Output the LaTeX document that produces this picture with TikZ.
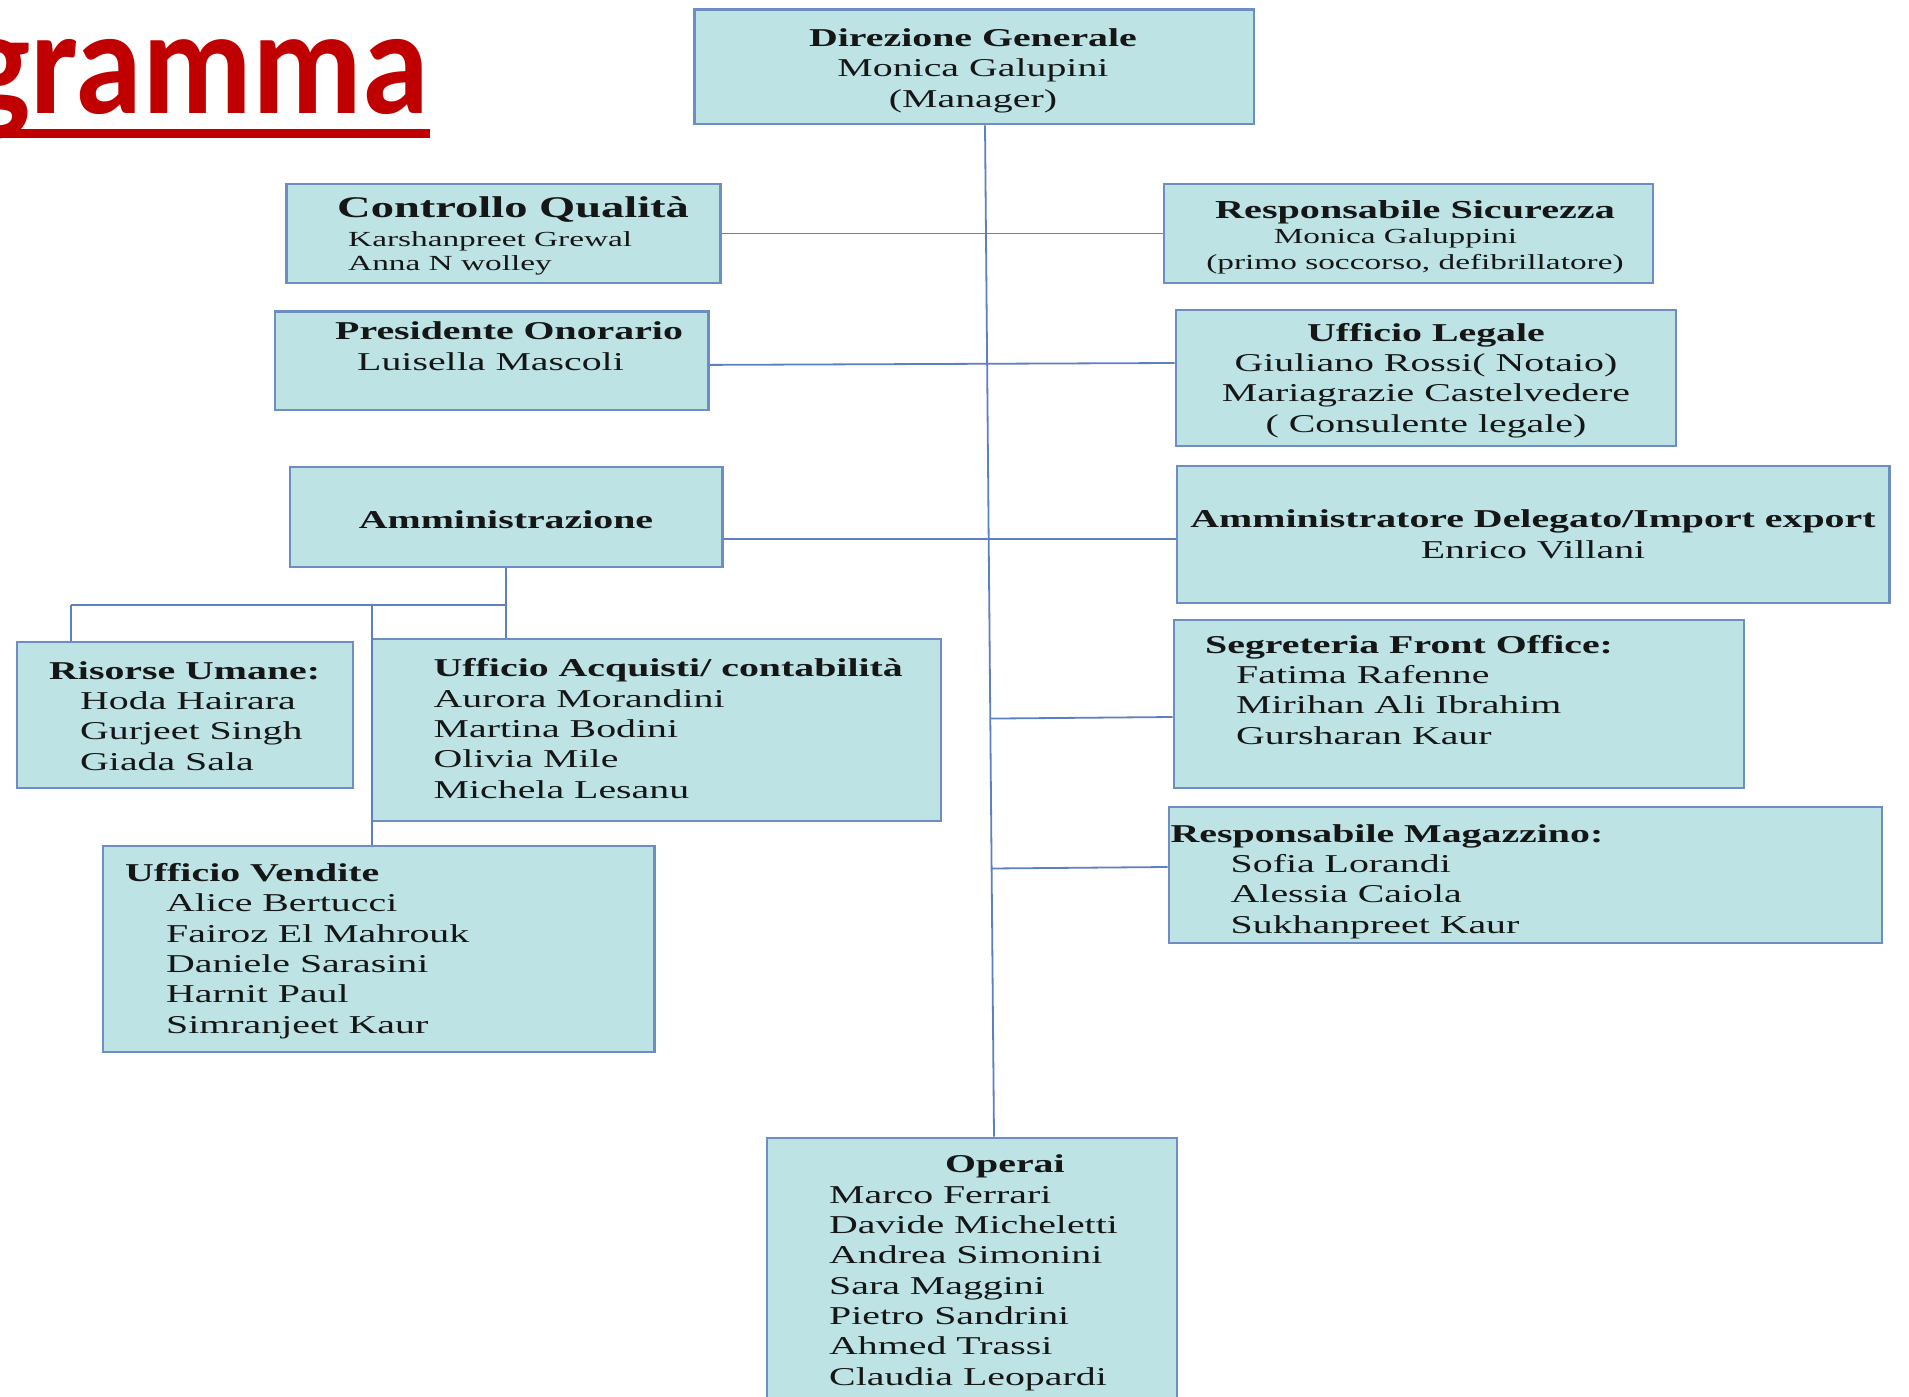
\documentclass[tikz,border=0pt]{standalone}
\usepackage{fontspec}
\setmainfont{Liberation Serif}
\newfontfamily\orgfont[FakeStretch=1.55]{Liberation Serif}
\newfontfamily\titlefont[FakeStretch=0.9]{Carlito}
\usetikzlibrary{calc}

\definecolor{unitfill}{RGB}{189,227,228}
\definecolor{unitline}{RGB}{108,142,194}
\definecolor{linkline}{RGB}{92,128,192}
\definecolor{titlered}{RGB}{192,0,0}
\definecolor{ink}{RGB}{22,22,22}

\tikzset{
  unit/.style={draw=unitline, fill=unitfill, line width=2.6pt, inner sep=0pt},
  staff/.style={inner sep=0pt, text=ink, font=\orgfont\fontsize{25.7}{30.3}\selectfont},
  link/.style={draw=linkline, line width=1.8pt},
}

\begin{document}
\begin{tikzpicture}[x=1pt,y=-1pt]
\useasboundingbox (0,0) rectangle (1909,1397);

\node[anchor=base east, inner sep=0pt, text=titlered, font=\titlefont\bfseries\fontsize{150}{150}\selectfont] (titolo) at (429,113) {gramma};
\fill[titlered] (0,129) rectangle (430,138);

\node[unit, minimum width=559.5pt, minimum height=114.7pt] (direzione) at (974.3,66.7) {};
\node[unit, minimum width=434pt, minimum height=99pt] (qualita) at (503.7,233.5) {};
\node[unit, minimum width=489pt, minimum height=99pt] (sicurezza) at (1408.5,233.5) {};
\node[unit, minimum width=433.3pt, minimum height=98.3pt] (presidente) at (491.7,360.9) {};
\node[unit, minimum width=500pt, minimum height=136pt] (legale) at (1426,378) {};
\node[unit, minimum width=432.6pt, minimum height=100pt] (amministrazione) at (506.3,517) {};
\node[unit, minimum width=712.6pt, minimum height=137pt] (delegato) at (1533.3,534.5) {};
\node[unit, minimum width=336pt, minimum height=146pt] (risorse) at (185,715) {};
\node[unit, minimum width=569pt, minimum height=182pt] (acquisti) at (656.5,730) {};
\node[unit, minimum width=551.5pt, minimum height=206pt] (vendite) at (378.7,949) {};
\node[unit, minimum width=570pt, minimum height=168pt] (segreteria) at (1459,704) {};
\node[unit, minimum width=713pt, minimum height=136pt] (magazzino) at (1525.5,875) {};
\node[unit, minimum width=410pt, minimum height=282pt] (operai) at (972,1279) {};

\coordinate (trunkTop) at ([xshift=10.7pt]direzione.south);
\coordinate (trunkEnd) at ([xshift=22pt]operai.north);
\draw[link] (trunkTop) -- (trunkEnd);

\draw[link] (qualita.east) -- (sicurezza.west);
\draw[link] ([yshift=-4pt]presidente.east) -- ([yshift=15pt]legale.west);
\draw[link] ([yshift=-22pt]amministrazione.east) -- ([yshift=-4.5pt]delegato.west);
\coordinate (segreteriaIn) at ([yshift=-13pt]segreteria.west);
\coordinate (magazzinoIn) at ([yshift=8pt]magazzino.west);
\draw[link] (segreteriaIn) -- ($(trunkTop)!(segreteriaIn)!(trunkEnd)$);
\draw[link] (magazzinoIn) -- ($(trunkTop)!(magazzinoIn)!(trunkEnd)$);

\coordinate (barLeft) at (71,605);
\coordinate (barMid) at (506.3,605);
\coordinate (barDrop) at (372,605);
\draw[link] (amministrazione.south) -- (barMid);
\draw[link] (barLeft) -- (barMid);
\draw[link] (barLeft) -- (barLeft |- risorse.north);
\draw[link] (barMid) -- (barMid |- acquisti.north);
\draw[link] (barDrop) -- (barDrop |- vendite.north);

\node[staff, align=center, anchor=base] (direzioneStaff) at (973,107)
  {\textbf{Direzione Generale}\\Monica Galupini\\(Manager)};
\node[staff, align=left, anchor=base west, font=\orgfont\fontsize{21.5}{23.5}\selectfont] (qualitaStaff) at (337,270)
  {{\fontsize{30}{30}\selectfont\bfseries Controllo Qualità}\\[5.5pt]\hspace*{11pt}Karshanpreet Grewal\\\hspace*{11pt}Anna N wolley};
\node[staff, align=center, anchor=base, font=\orgfont\fontsize{21.5}{25.5}\selectfont] (sicurezzaStaff) at (1415,269)
  {{\fontsize{25.9}{30}\selectfont\bfseries Responsabile Sicurezza}\\Monica Galuppini\hspace*{39pt}\null\\(primo soccorso, defibrillatore)};
\node[staff, align=left, anchor=base west] (presidenteStaff) at (335,370)
  {\textbf{Presidente Onorario}\\\hspace*{22pt}Luisella Mascoli};
\node[staff, align=center, anchor=base] (legaleStaff) at (1426,432)
  {\textbf{Ufficio Legale}\\Giuliano Rossi( Notaio)\\Mariagrazie Castelvedere\\( Consulente legale)};
\node[staff, anchor=base] (amministrazioneStaff) at (506,528)
  {\textbf{Amministrazione}};
\node[staff, align=center, anchor=base] (delegatoStaff) at (1533,558)
  {\textbf{Amministratore Delegato/Import export}\\Enrico Villani};
\node[staff, align=left, anchor=base west] (risorseStaff) at (49,770)
  {\textbf{Risorse Umane:}\\\hspace*{31pt}Hoda Hairara\\\hspace*{31pt}Gurjeet Singh\\\hspace*{31pt}Giada Sala};
\node[staff, align=left, anchor=base west] (acquistiStaff) at (433.5,798)
  {\textbf{Ufficio Acquisti/ contabilità}\\Aurora Morandini\\Martina Bodini\\Olivia Mile\\Michela Lesanu};
\node[staff, align=left, anchor=base west] (venditeStaff) at (125,1033)
  {\textbf{Ufficio Vendite}\\\hspace*{41pt}Alice Bertucci\\\hspace*{41pt}Fairoz El Mahrouk\\\hspace*{41pt}Daniele Sarasini\\\hspace*{41pt}Harnit Paul\\\hspace*{41pt}Simranjeet Kaur};
\node[staff, align=left, anchor=base west] (segreteriaStaff) at (1205,744)
  {\textbf{Segreteria Front Office:}\\\hspace*{31pt}Fatima Rafenne\\\hspace*{31pt}Mirihan Ali Ibrahim\\\hspace*{31pt}Gursharan Kaur};
\node[staff, align=left, anchor=base west] (magazzinoStaff) at (1170.5,933)
  {\textbf{Responsabile Magazzino:}\\\hspace*{60pt}Sofia Lorandi\\\hspace*{60pt}Alessia Caiola\\\hspace*{60pt}Sukhanpreet Kaur};
\node[staff, align=left, anchor=base west] (operaiStaff) at (829,1385)
  {\hspace*{116pt}\textbf{Operai}\\Marco Ferrari\\Davide Micheletti\\Andrea Simonini\\Sara Maggini\\Pietro Sandrini\\Ahmed Trassi\\Claudia Leopardi};
\end{tikzpicture}
\end{document}
